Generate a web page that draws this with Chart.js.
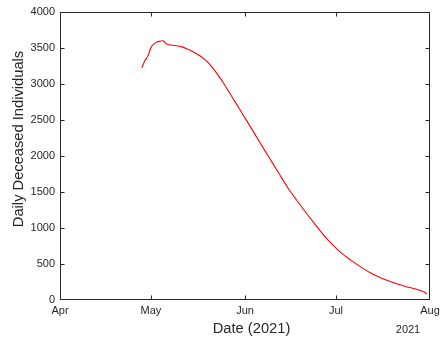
<!DOCTYPE html>
<html>
<head>
<meta charset="utf-8">
<script src="https://cdn.jsdelivr.net/npm/chart.js@4"></script>
<style>
  html, body { margin: 0; padding: 0; background: #ffffff; }
  #c { display: block; }
</style>
</head>
<body>
<canvas id="c" width="445" height="340"></canvas>
<script>
// ---- data ----
const originDate = '2021-04-01';
const monthLabels = ['Apr', 'May', 'Jun', 'Jul', 'Aug'];
const monthTickDates = ['2021-04-01', '2021-05-01', '2021-06-01', '2021-07-01', '2021-08-01'];
const yTickValues = [0, 500, 1000, 1500, 2000, 2500, 3000, 3500, 4000];
const yearLabel = '2021';
const xTitle = 'Date (2021)';
const yTitle = 'Daily Deceased Individuals';

const obsDates = [
  '2021-04-28', '2021-04-29', '2021-04-30', '2021-05-01', '2021-05-02', '2021-05-03',
  '2021-05-04', '2021-05-05', '2021-05-06', '2021-05-07', '2021-05-09', '2021-05-11',
  '2021-05-13', '2021-05-15', '2021-05-17', '2021-05-19', '2021-05-21', '2021-05-23',
  '2021-05-25', '2021-05-27', '2021-05-29', '2021-05-31', '2021-06-03', '2021-06-06',
  '2021-06-09', '2021-06-12', '2021-06-15', '2021-06-18', '2021-06-21', '2021-06-24',
  '2021-06-27', '2021-06-30', '2021-07-03', '2021-07-06', '2021-07-09', '2021-07-12',
  '2021-07-15', '2021-07-18', '2021-07-21', '2021-07-24', '2021-07-27', '2021-07-30',
  '2021-07-31'
];
const dailyDeceased = [
  3220, 3320, 3385, 3500, 3552, 3578,
  3588, 3595, 3555, 3540, 3528, 3513,
  3482, 3440, 3390, 3325, 3235, 3125,
  3000, 2865, 2728, 2592, 2385, 2175,
  1970, 1765, 1560, 1382, 1212, 1050,
  892, 756, 637, 543, 457, 379,
  316, 264, 218, 180, 148, 104,
  78
];

// ---- helpers ----
function dayOffset(s) {
  const [y, m, d] = s.split('-').map(Number);
  const [y0, m0, d0] = originDate.split('-').map(Number);
  return Math.round((Date.UTC(y, m - 1, d) - Date.UTC(y0, m0 - 1, d0)) / 86400000);
}
const monthTickDays = monthTickDates.map(dayOffset);
const points = obsDates.map((d, i) => ({ x: dayOffset(d), y: dailyDeceased[i] }));

const axisColor = '#262626';
const fontFamily = '"Liberation Sans", Arial, Helvetica, sans-serif';

const boxPlugin = {
  id: 'matlabBox',
  afterDraw(chart) {
    const ctx = chart.ctx;
    const a = chart.chartArea;
    const xs = chart.scales.x, ys = chart.scales.y;
    const L = Math.round(a.left) + 0.5, R = Math.round(a.right) - 0.5;
    const T = Math.round(a.top) + 0.5, B = Math.round(a.bottom) - 0.5;
    const tl = 4;
    const clamp = (v, lo, hi) => Math.min(hi, Math.max(lo, v));
    ctx.save();
    ctx.strokeStyle = axisColor;
    ctx.lineWidth = 1;
    ctx.beginPath();
    ctx.rect(L, T, R - L, B - T);
    monthTickDays.forEach(v => {
      const px = clamp(Math.round(xs.getPixelForValue(v)) + 0.5, L, R);
      ctx.moveTo(px, B); ctx.lineTo(px, B - tl);
      ctx.moveTo(px, T); ctx.lineTo(px, T + tl);
    });
    yTickValues.forEach(v => {
      const py = clamp(Math.round(ys.getPixelForValue(v)) + 0.5, T, B);
      ctx.moveTo(L, py); ctx.lineTo(L + tl, py);
      ctx.moveTo(R, py); ctx.lineTo(R - tl, py);
    });
    ctx.stroke();

    // axis titles and year label
    ctx.fillStyle = axisColor;
    ctx.font = '14.7px ' + fontFamily;
    ctx.textAlign = 'center';
    ctx.textBaseline = 'alphabetic';
    ctx.fillText(xTitle, 251.5, 332.5);
    ctx.save();
    ctx.translate(23, 139);
    ctx.rotate(-Math.PI / 2);
    ctx.fillText(yTitle, 0, 0);
    ctx.restore();
    ctx.font = '11px ' + fontFamily;
    ctx.fillText(yearLabel, xs.getPixelForValue(monthTickDays[monthTickDays.length - 1]) - 22, 333);
    ctx.restore();
  }
};

new Chart(document.getElementById('c'), {
  type: 'line',
  data: {
    datasets: [{
      data: points,
      borderColor: '#ff0000',
      borderWidth: 1.1,
      pointRadius: 0,
      fill: false,
      tension: 0.3
    }]
  },
  options: {
    responsive: false,
    animation: false,
    events: [],
    layout: { padding: { top: 9.5, right: 15, left: 0, bottom: 0 } },
    plugins: { legend: { display: false }, tooltip: { enabled: false } },
    scales: {
      x: {
        type: 'linear',
        min: monthTickDays[0],
        max: monthTickDays[monthTickDays.length - 1],
        afterBuildTicks(s) { s.ticks = monthTickDays.map(v => ({ value: v })); },
        afterFit(s) { s.height = 40.5; },
        grid: { display: false, drawTicks: false },
        border: { display: false },
        ticks: {
          autoSkip: false,
          maxRotation: 0,
          padding: 5,
          color: axisColor,
          font: { family: fontFamily, size: 11 },
          callback: v => monthLabels[monthTickDays.indexOf(v)]
        }
      },
      y: {
        type: 'linear',
        min: yTickValues[0],
        max: yTickValues[yTickValues.length - 1],
        afterBuildTicks(s) { s.ticks = yTickValues.map(v => ({ value: v })); },
        afterFit(s) { s.width = 60; },
        grid: { display: false, drawTicks: false },
        border: { display: false },
        ticks: {
          padding: 5,
          color: axisColor,
          font: { family: fontFamily, size: 11 },
          callback: v => String(v)
        }
      }
    }
  },
  plugins: [boxPlugin]
});
</script>
</body>
</html>
